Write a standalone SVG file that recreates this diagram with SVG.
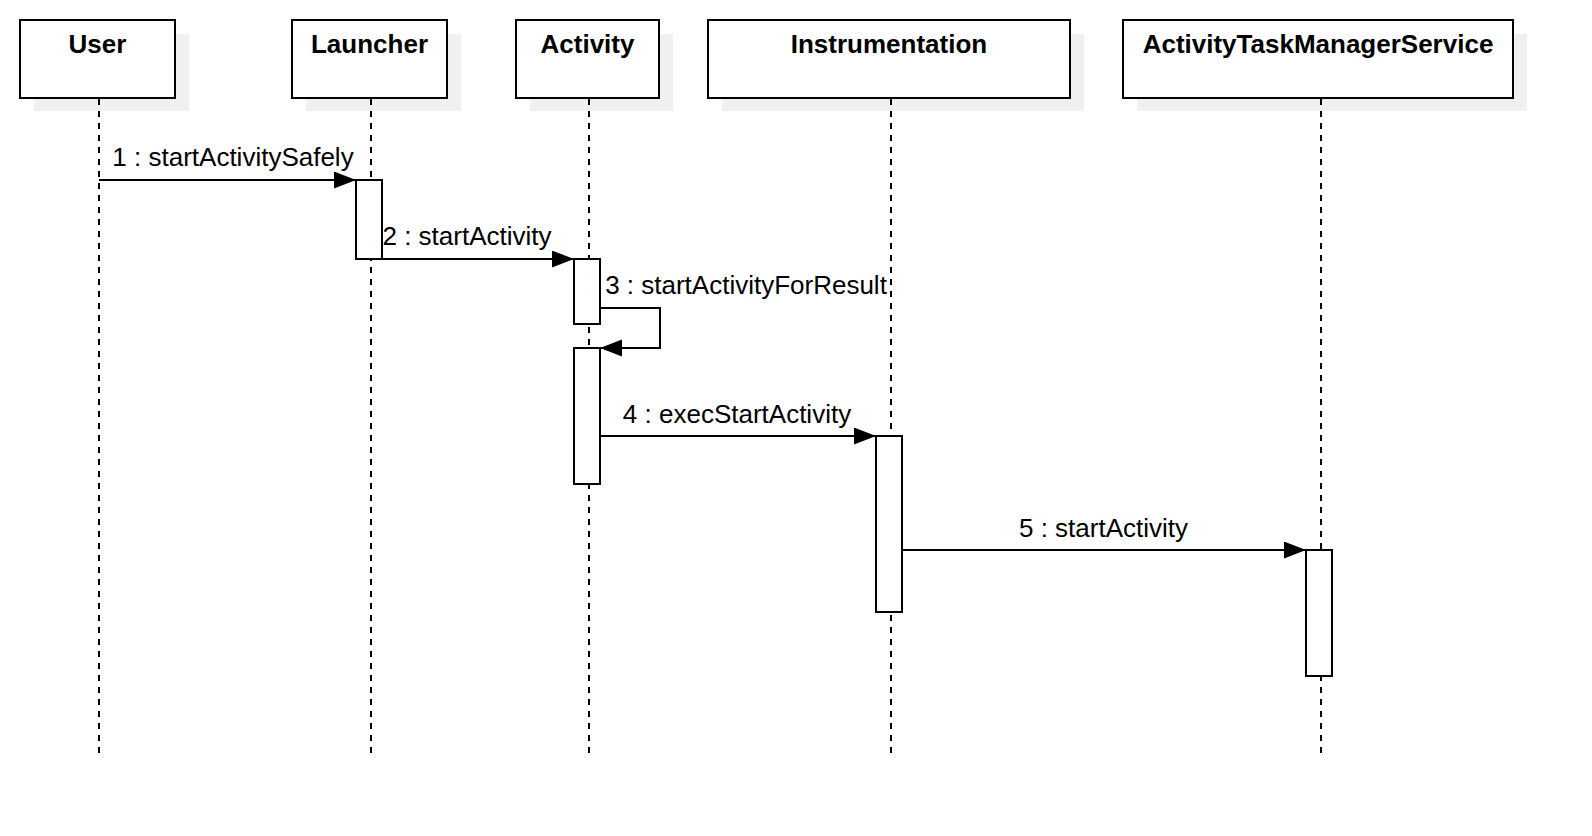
<svg xmlns="http://www.w3.org/2000/svg" width="1592" height="836" viewBox="0 0 1592 836">
<style>
.shadow{fill:#f0f0f0;stroke:none}
.head{fill:#ffffff;stroke:#000000;stroke-width:2}
.htxt{font-family:"Liberation Sans",Arial,sans-serif;font-size:26px;font-weight:bold;fill:#000000;text-anchor:middle}
.life{stroke:#000000;stroke-width:2;stroke-dasharray:6 6;fill:none}
.act{fill:#ffffff;stroke:#000000;stroke-width:2}
.msg{fill:none;stroke:#000000;stroke-width:2;marker-end:url(#arr)}
.ltxt{font-family:"Liberation Sans",Arial,sans-serif;font-size:26px;fill:#000000;text-anchor:middle}
</style>
<defs>
<marker id="arr" markerUnits="userSpaceOnUse" markerWidth="23" markerHeight="18" refX="22" refY="8.5" orient="auto">
<path d="M0,0 L22,8.5 L0,17 z" fill="#000000"/>
</marker>
</defs>
<rect width="1592" height="836" fill="#ffffff"/>
<g id="user">
<rect class="shadow" x="34" y="34" width="155" height="77"/>
<rect class="head" x="20" y="20" width="155" height="78"/>
<text class="htxt" x="97.5" y="53">User</text>
</g>
<g id="launcher">
<rect class="shadow" x="306" y="34" width="155" height="77"/>
<rect class="head" x="292" y="20" width="155" height="78"/>
<text class="htxt" x="369.5" y="53">Launcher</text>
</g>
<g id="activity">
<rect class="shadow" x="530" y="34" width="143" height="77"/>
<rect class="head" x="516" y="20" width="143" height="78"/>
<text class="htxt" x="587.5" y="53">Activity</text>
</g>
<g id="instrumentation">
<rect class="shadow" x="722" y="34" width="362" height="77"/>
<rect class="head" x="708" y="20" width="362" height="78"/>
<text class="htxt" x="889" y="53">Instrumentation</text>
</g>
<g id="atms">
<rect class="shadow" x="1137" y="34" width="390" height="77"/>
<rect class="head" x="1123" y="20" width="390" height="78"/>
<text class="htxt" x="1318" y="53">ActivityTaskManagerService</text>
</g>
<g id="lifelines">
<line class="life" x1="99" y1="99" x2="99" y2="753"/>
<line class="life" x1="371" y1="99" x2="371" y2="753"/>
<line class="life" x1="589" y1="99" x2="589" y2="753"/>
<line class="life" x1="891" y1="99" x2="891" y2="753"/>
<line class="life" x1="1321" y1="99" x2="1321" y2="753"/>
</g>
<g id="activations">
<rect class="act" x="356" y="180" width="26" height="79"/>
<rect class="act" x="574" y="259" width="26" height="65"/>
<rect class="act" x="574" y="348" width="26" height="136"/>
<rect class="act" x="876" y="436" width="26" height="176"/>
<rect class="act" x="1306" y="550" width="26" height="126"/>
</g>
<g id="connectors">
<path class="msg" d="M99,180 H356"/>
<text class="ltxt" x="233" y="166">1 : startActivitySafely</text>
<path class="msg" d="M382,259 H574"/>
<text class="ltxt" x="467" y="245">2 : startActivity</text>
<path class="msg" d="M600,308 H660 V348 H600"/>
<text class="ltxt" x="746" y="294">3 : startActivityForResult</text>
<path class="msg" d="M600,436 H876"/>
<text class="ltxt" x="737" y="423">4 : execStartActivity</text>
<path class="msg" d="M902,550 H1306"/>
<text class="ltxt" x="1103.5" y="537">5 : startActivity</text>
</g>
</svg>
